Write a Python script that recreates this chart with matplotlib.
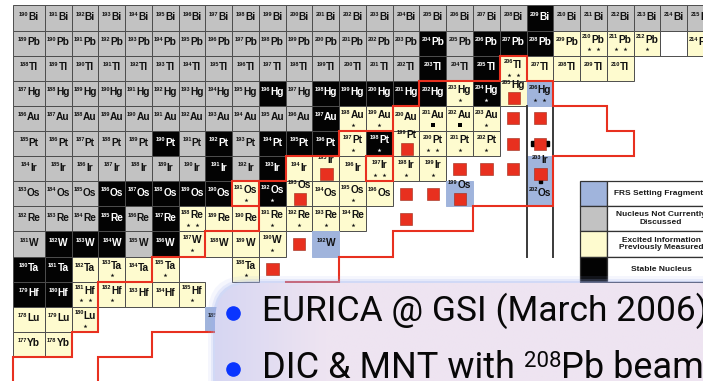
import numpy as np
import matplotlib.pyplot as plt
from matplotlib.patches import Rectangle, FancyBboxPatch
from matplotlib.colors import to_rgb

plt.rcParams['font.family'] = ['Liberation Sans', 'DejaVu Sans']

# one row per element: symbol, Z, lightest mass shown and the status of each cell
# g = not currently discussed, k = stable, y = excited states known,
# b = FRS setting fragment, w = empty framed cell, . = no cell
symbols = ['Bi', 'Pb', 'Tl', 'Hg', 'Au', 'Pt', 'Ir', 'Os', 'Re', 'W', 'Ta', 'Hf', 'Lu', 'Yb']
charges = [83, 82, 81, 80, 79, 78, 77, 76, 75, 74, 73, 72, 71, 70]
first_mass = [190, 189, 188, 187, 186, 185, 184, 183, 182, 181, 180, 179, 178, 177]
cell_codes = [
    'g' * 19 + 'k' + 'g' * 6,
    'g' * 15 + 'kgkkk' + 'yyyy' + 'wy',
    'g' * 15 + 'kgk' + 'y' * 5,
    'g' * 9 + 'kg' + 'k' * 5 + 'ykyb',
    'g' * 11 + 'k' + 'y' * 6,
    'g' * 5 + 'kgkg' + 'kkk' + 'yk' + 'yyyy',
    'g' * 7 + 'kgk' + 'y' * 6 + '...b',
    'ggg' + 'k' * 5 + 'yk' + 'yyyy' + '..b..b',
    'ggg' + 'kgk' + 'y' * 7,
    'gkkkgk' + 'yyyy' + '.b',
    'kk' + 'yyyy' + '..y',
    'kk' + 'y' * 5,
    'yyy' + '....b',
    'yy',
]

# asterisks and small squares under the labels
marks = {
    ('Pb', 210): '**', ('Pb', 211): '**', ('Pb', 212): '*',
    ('Tl', 206): '**',
    ('Hg', 203): '*', ('Hg', 204): '*', ('Hg', 206): '**',
    ('Au', 198): '*', ('Au', 199): '*', ('Au', 201): 'sq', ('Au', 202): 'sq', ('Au', 203): '*',
    ('Pt', 197): '*', ('Pt', 198): '*', ('Pt', 200): '**', ('Pt', 201): '*', ('Pt', 202): '*',
    ('Ir', 197): '**', ('Ir', 198): '*', ('Ir', 199): '*',
    ('Os', 191): '*', ('Os', 192): '*', ('Os', 195): '*',
    ('Re', 188): '**', ('Re', 191): '*', ('Re', 192): '*', ('Re', 193): '*', ('Re', 194): '*',
    ('W', 187): '*', ('W', 190): '*',
    ('Ta', 183): '*', ('Ta', 185): '*', ('Ta', 188): '*',
    ('Hf', 181): '**', ('Hf', 182): '*', ('Hf', 185): '*',
    ('Lu', 180): '*',
}

# nuclei reached in the new measurement (red squares)
new_nuclei = [('Hg', 205), ('Au', 204), ('Au', 205), ('Pt', 199), ('Pt', 203), ('Pt', 204),
              ('Ir', 195), ('Ir', 200), ('Ir', 201), ('Ir', 202), ('Ir', 203),
              ('Os', 193), ('Os', 197), ('Os', 198), ('Os', 199),
              ('Re', 196), ('W', 191), ('Ta', 189)]
bar_marks = {('Pt', 204): 'h', ('Ir', 203): 'v'}

# red boundary, as cell edges in (N, Z)
edge_n = [107, 107, 109, 109, 110, 110, 112, 112, 114, 114, 116, 116, 115, 115, 117, 117,
          119, 119, 121, 121, 122, 122, 125, 125, 126, 126, 127, 127, 129, 129, 130, 130,
          127, 127, 124, 124, 121, 121, 119, 119, 117, 117, 116, 116, 112, 112, 110, 110]
edge_z = [68.5, 70, 70, 71, 71, 73, 73, 74, 74, 75, 75, 76, 76, 77, 77, 78,
          78, 79, 79, 80, 80, 81, 81, 82, 82, 81, 81, 80, 80, 79, 79, 78,
          78, 76, 76, 75, 75, 74, 74, 73, 73, 72, 72, 71, 71, 70, 70, 68.5]
ir_box_n = [121, 121, 120, 120, 121]
ir_box_z = [79, 77, 77, 78, 78]
os_box_n = [116, 116]
os_box_z = [77, 76]

legend_codes = ['b', 'g', 'y', 'k']
legend_labels = ['FRS Setting Fragments', 'Nucleus Not Currently\nDiscussed',
                 'Excited Information\nPreviously Measured', 'Stable Nucleus']

line1 = 'EURICA @ GSI (March 2006)'
line2 = ['DIC & MNT with ', '208', 'Pb beam']

fill = {'g': '#c2c2c2', 'k': '#030303', 'y': '#fefbcf', 'b': '#a0b4dc', 'w': '#ffffff'}
red = '#e8301f'


def left(n):
    # first column of the table is a little wider
    return n - 0.2 if n == 107 else n


fig = plt.figure(figsize=(7.03, 3.81), dpi=100)
ax = fig.add_axes([0, 0, 1, 1])
ax.set_xlim(106.318, 132.598)
ax.set_ylim(69.04, 84.219)
ax.axis('off')
rend = fig.canvas.get_renderer()
px_per_n = ax.transData.transform((1, 0))[0] - ax.transData.transform((0, 0))[0]

sym_of = dict(zip(symbols, charges))
new_set = set(new_nuclei)


def put_label(xc, yb, mass, sym, color):
    m = ax.text(0, 0, str(mass), fontsize=4.1, fontweight='bold', color=color,
                ha='right', va='baseline', zorder=4)
    s = ax.text(0, 0, sym, fontsize=7.3, fontweight='bold', color=color,
                ha='left', va='baseline', zorder=4)
    wm = m.get_window_extent(rend).width
    ws = s.get_window_extent(rend).width
    xs = xc + (wm - (wm + ws) / 2) / px_per_n
    m.set_position((xs, yb + 0.17))
    s.set_position((xs, yb))


for sym, z, a0, codes in zip(symbols, charges, first_mass, cell_codes):
    for i, code in enumerate(codes):
        if code == '.':
            continue
        a = a0 + i
        n = a - z
        x0 = left(n)
        w = n + 1 - x0
        edge = fill[code] if code == 'b' else '#4d4d4d'
        ax.add_patch(Rectangle((x0, z), w, 1, facecolor=fill[code], edgecolor=edge,
                               lw=0.7, zorder=1))
        if code == 'w':
            continue
        tc = 'white' if code == 'k' else '#111111'
        xc = x0 + w / 2
        mk = marks.get((sym, a))
        if (sym, a) in new_set:
            yb = z + 0.72
        elif mk:
            yb = z + 0.52
        else:
            yb = z + 0.42
        put_label(xc, yb, a, sym, tc)
        if mk == '*':
            ax.plot(xc, z + 0.25, marker='*', ms=3, color=tc, mew=0, zorder=4)
        elif mk == '**':
            ax.plot([xc - 0.17, xc + 0.17], [z + 0.25] * 2, ls='none', marker='*',
                    ms=3, color=tc, mew=0, zorder=4)
        elif mk == 'sq':
            ax.plot(xc, z + 0.25, marker='s', ms=2.6, color='black', mew=0, zorder=4)

# red squares
for sym, a in new_nuclei:
    z = sym_of[sym]
    n = a - z
    row = symbols.index(sym)
    idx = a - first_mass[row]
    has_cell = 0 <= idx < len(cell_codes[row]) and cell_codes[row][idx] != '.'
    xc = n + (0.52 if has_cell else 0.5)
    yc = z + (0.3 if has_cell else 0.5)
    kind = bar_marks.get((sym, a))
    if kind == 'h':
        ax.add_patch(Rectangle((xc - 0.33, yc - 0.1), 0.66, 0.2, color='black', zorder=4))
    elif kind == 'v':
        ax.add_patch(Rectangle((xc - 0.07, yc - 0.38), 0.14, 0.2, color='black', zorder=4))
    ax.add_patch(Rectangle((xc - 0.23, yc - 0.24), 0.46, 0.48, facecolor=red,
                           edgecolor='#9a2a18', lw=0.4, zorder=5))

# long column dividers
for xv in (126, 127):
    ax.plot([xv, xv], [80, 74], color='#3a3a3a', lw=1.4, zorder=3)

# boundary lines
ax.plot([left(v) for v in edge_n], edge_z, color=red, lw=1.5, zorder=6,
        solid_joinstyle='miter', solid_capstyle='butt')
ax.plot(ir_box_n, ir_box_z, color=red, lw=1.5, zorder=6, solid_joinstyle='miter')
ax.plot(os_box_n, os_box_z, color=red, lw=1.5, zorder=6)

# legend table
for i, (code, lab) in enumerate(zip(legend_codes, legend_labels)):
    z = 76 - i
    ax.add_patch(Rectangle((128, z), 1, 1, facecolor=fill[code], edgecolor='#333333',
                           lw=0.9, zorder=2))
    ax.add_patch(Rectangle((129, z), 5, 1, facecolor='white', edgecolor='#333333',
                           lw=0.9, zorder=2))
    ax.text(131.03, z + 0.5, lab, fontsize=6.0, fontweight='bold', color='#1a1a1a',
            ha='center', va='center', linespacing=1.15, zorder=3)

# text panel in front of the table
ov = fig.add_axes([0, 0, 1, 1])
ov.set_xlim(0, 703)
ov.set_ylim(381, 0)
ov.axis('off')

for pad, al in ((7, 0.10), (4, 0.18), (2, 0.28)):
    ov.add_patch(FancyBboxPatch((215, 283), 520, 130,
                                boxstyle=f'round,pad={pad},rounding_size=38',
                                facecolor='#9fb0ee', edgecolor='none', alpha=al, zorder=1))
panel = FancyBboxPatch((215, 283), 520, 130, boxstyle='round,pad=0,rounding_size=38',
                       facecolor='none', edgecolor='none', zorder=2)
ov.add_patch(panel)
xs = np.linspace(213, 720, 200)
t = np.clip((xs - 213) / 110, 0, 1)[None, :, None]
c_left = np.array(to_rgb('#d6d6f3'))
c_right = np.array(to_rgb('#eee4f1'))
grad = np.repeat(c_left * (1 - t) + c_right * t, 20, axis=0)
im = ov.imshow(grad, extent=(213, 720, 395, 281), aspect='auto', zorder=2)
im.set_clip_path(panel)
ov.set_xlim(0, 703)
ov.set_ylim(381, 0)

font2 = ['Roboto', 'DejaVu Sans']
ov.plot([233, 233], [313, 369], ls='none', marker='o', ms=9.5, color='#0a35ff', zorder=4)
ov.text(262, 321, line1, fontsize=25.5, family=font2, color='#080808', va='baseline', zorder=4)
x = 262
for k, part in enumerate(line2):
    small = k == 1
    tx = ov.text(x, 378 - (11 if small else 0), part, fontsize=16 if small else 26,
                 family=font2, color='#080808', va='baseline', zorder=4)
    x += tx.get_window_extent(rend).width

fig.savefig('out.png', dpi=100)
